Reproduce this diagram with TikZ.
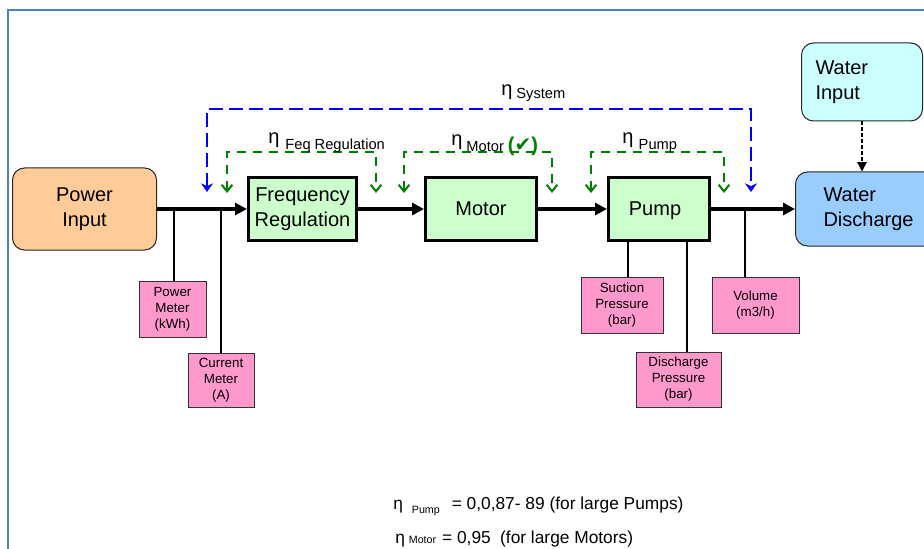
\documentclass[tikz,border=0pt]{standalone}
\usepackage{fontspec}
\setmainfont{Liberation Sans}
\newfontfamily\symfont{DejaVu Sans}
\usepackage{xcolor}
\usepackage{tikz}
\usetikzlibrary{arrows.meta, positioning, calc}
\definecolor{sourceorange}{RGB}{255, 204, 153}
\definecolor{unitgreen}{RGB}{204, 255, 204}
\definecolor{outletblue}{RGB}{153, 204, 255}
\definecolor{inletcyan}{RGB}{204, 255, 255}
\definecolor{meterpink}{RGB}{255, 153, 204}
\definecolor{framesteel}{RGB}{79, 129, 189}
\definecolor{effgreen}{RGB}{0, 128, 0}
\definecolor{effblue}{RGB}{0, 0, 255}
\newcommand{\effsub}[1]{\raisebox{-4pt}{\fontsize{11}{11}\selectfont #1}}
\newcommand{\notesub}[2]{\raisebox{#1}{\fontsize{8}{8}\selectfont #2}}

\begin{document}
\begin{tikzpicture}[
    x=0.75pt, y=-0.75pt,
    unit/.style={rectangle, draw=black, line width=2.6pt, fill=unitgreen, minimum height=46.9pt, align=center, font=\fontsize{15}{19}\selectfont},
    tank/.style={rectangle, draw=black!85, line width=0.75pt, rounded corners=9pt, font=\fontsize{15}{19}\selectfont},
    meter/.style={rectangle, draw=black!80, line width=0.75pt, fill=meterpink, align=center, font=\fontsize{10}{12}\selectfont},
    flow/.style={-{Triangle[length=9pt, width=9pt]}, line width=3pt},
    tap/.style={line width=1.5pt},
    effsys/.style={{Stealth[length=6.5pt, width=9pt]}-{Stealth[length=6.5pt, width=9pt]}, draw=effblue, line width=2.2pt, dash pattern=on 10pt off 5pt},
    effpart/.style={{Straight Barb[length=5pt, width=8pt]}-{Straight Barb[length=5pt, width=8pt]}, draw=effgreen, line width=1.5pt, dash pattern=on 7pt off 5pt},
    efflabel/.style={anchor=base west, inner sep=0pt, font=\fontsize{15}{15}\selectfont},
    note/.style={anchor=base west, inner sep=0pt, font=\fontsize{13}{13}\selectfont}
]
    \useasboundingbox (0,0) rectangle (924,549);
    \clip (0,0) rectangle (924,549);
    \draw[framesteel, line width=1.5pt] (8,560) |- (930,10.5);

    \node[tank, fill=sourceorange, minimum width=108pt, minimum height=61.5pt, align=center] (power) at (84.5,209) {Power\\Input};
    \node[unit, minimum width=80.65pt, right=67.5pt of power] (freq) {Frequency\\Regulation};
    \node[unit, minimum width=82.9pt, text depth=0pt, right=49.5pt of freq] (motor) {Motor};
    \node[unit, minimum width=75.4pt, text depth=0pt, right=51.75pt of motor] (pump) {\hspace*{-6pt}Pump};
    \node[tank, fill=outletblue, anchor=west, minimum height=55.5pt, text width=84pt, inner xsep=21pt, align=left] (outlet) at (795,209) {Water\\Discharge};
    \node[tank, fill=inletcyan, anchor=west, minimum height=58.5pt, text width=69.75pt, inner xsep=10.5pt, align=left] (inlet) at (801,82) {Water\\Input};

    \node[meter, minimum width=50.25pt, minimum height=42pt] (pmeter) at (172.5,309) {Power\\Meter\\(kWh)};
    \node[meter, minimum width=49.5pt, minimum height=40.5pt] (cmeter) at (221,380) {Current\\Meter\\(A)};
    \node[meter, minimum width=61.5pt, minimum height=42pt] (suction) at (622,305) {Suction\\Pressure\\(bar)};
    \node[meter, minimum width=63.75pt, minimum height=41.25pt] (dpress) at (678.5,379.5) {Discharge\\Pressure\\(bar)};
    \node[meter, minimum width=65.25pt, minimum height=42pt] (volume) at (755.5,305) {Volume\\(m3/h)};

    \draw[flow] (power) -- (freq);
    \draw[flow] (freq) -- (motor);
    \draw[flow] (motor) -- (pump);
    \draw[flow] (pump) -- (outlet);
    \draw[line width=1pt, dash pattern=on 3pt off 1.5pt, -{Triangle[length=7pt, width=7pt]}] (inlet.south) -- (inlet.south |- outlet.north);

    \coordinate (tapPM) at (174,209);
    \coordinate (tapCM) at (221,209);
    \coordinate (tapSP) at (628,242);
    \coordinate (tapDP) at (687,242);
    \coordinate (tapV) at (745,209);
    \draw[tap] (tapPM) -- (tapPM |- pmeter.north);
    \draw[tap] (tapCM) -- (tapCM |- cmeter.north);
    \draw[tap] (tapSP) -- (tapSP |- suction.north);
    \draw[tap] (tapDP) -- (tapDP |- dpress.north);
    \draw[tap] (tapV) -- (tapV |- volume.north);

    \coordinate (sysL) at (207,192);
    \coordinate (sysT) at (479,109);
    \coordinate (sysR) at (751,192);
    \draw[effsys] (sysL) |- (sysT) -| (sysR);
    \foreach \name/\lx/\rx in {freq/227/376, motor/404/552, pump/591/724} {
        \coordinate (\name L) at (\lx,193);
        \coordinate (\name R) at (\rx,193);
        \draw[effpart] (\name L) -- ++(0,-41) -| (\name R);
    }

    \node[efflabel] (etasys) at (501,96) {η\hspace{3pt}\raisebox{-2.25pt}{\fontsize{11}{11}\selectfont System}};
    \node[efflabel] (etafreq) at (268,144) {η\hspace{4.5pt}\effsub{Feq Regulation}};
    \node[efflabel] (etamotor) at (451,146) {η\hspace{3pt}\effsub{Motor}\hspace{3pt}\raisebox{-4pt}{\color{effgreen}{\bfseries(}{\symfont\bfseries ✔}{\bfseries)}}};
    \node[efflabel] (etapump) at (622,144) {η\hspace{4pt}\effsub{Pump}};

    \node[note] (pumpnote) at (393,509) {η\hspace{6.75pt}\notesub{-3pt}{Pump}\hspace{9pt}= 0,0,87- 89 (for large Pumps)};
    \node[note] (motornote) at (395,543) {η\hspace{3pt}\notesub{0pt}{Motor}\hspace{4.5pt}= 0,95\hspace{7pt}(for large Motors)};
\end{tikzpicture}
\end{document}
